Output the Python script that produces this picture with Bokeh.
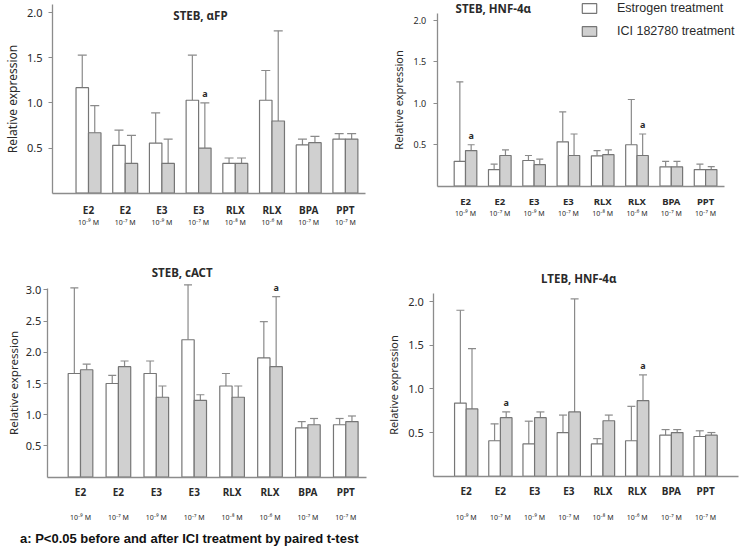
from bokeh.plotting import figure
from bokeh.models import (ColumnDataSource, Range1d, FixedTicker, LinearAxis, Whisker,
                          TeeHead, Label, Legend, LegendItem, Div, PrintfTickFormatter)
from bokeh.layouts import row, column
from bokeh.transform import dodge
from bokeh.core.properties import value
from bokeh.embed import file_html
from bokeh.resources import INLINE

# ---------------- data ----------------
drugs = ["E2", "E2", "E3", "E3", "RLX", "RLX", "BPA", "PPT"]
concs = ["10⁻⁹ M", "10⁻⁷ M", "10⁻⁹ M", "10⁻⁷ M", "10⁻⁸ M", "10⁻⁶ M", "10⁻⁷ M", "10⁻⁷ M"]

# STEB, αFP
afp_est = [1.17, 0.53, 0.555, 1.03, 0.33, 1.03, 0.535, 0.60]
afp_est_err = [1.53, 0.70, 0.89, 1.53, 0.39, 1.36, 0.60, 0.66]
afp_ici = [0.67, 0.33, 0.33, 0.50, 0.33, 0.80, 0.56, 0.60]
afp_ici_err = [0.97, 0.64, 0.60, 1.00, 0.39, 1.80, 0.63, 0.66]
afp_sig = ["", "", "", "a", "", "", "", ""]

# STEB, HNF-4α
shnf_est = [0.30, 0.20, 0.31, 0.535, 0.366, 0.50, 0.234, 0.20]
shnf_est_err = [1.26, 0.266, 0.37, 0.896, 0.43, 1.046, 0.30, 0.266]
shnf_ici = [0.43, 0.37, 0.26, 0.37, 0.38, 0.37, 0.234, 0.20]
shnf_ici_err = [0.50, 0.437, 0.326, 0.63, 0.437, 0.63, 0.30, 0.235]
shnf_sig = ["a", "", "", "", "", "a", "", ""]

# STEB, cACT
cact_est = [1.66, 1.50, 1.66, 2.20, 1.46, 1.91, 0.79, 0.84]
cact_est_err = [3.03, 1.63, 1.86, 3.08, 1.66, 2.49, 0.89, 0.94]
cact_ici = [1.72, 1.77, 1.28, 1.23, 1.28, 1.77, 0.84, 0.89]
cact_ici_err = [1.81, 1.86, 1.46, 1.32, 1.46, 2.89, 0.94, 0.98]
cact_sig = ["", "", "", "", "", "a", "", ""]

# LTEB, HNF-4α
lhnf_est = [0.837, 0.406, 0.37, 0.50, 0.37, 0.406, 0.47, 0.455]
lhnf_est_err = [1.90, 0.60, 0.63, 0.70, 0.43, 0.80, 0.534, 0.52]
lhnf_ici = [0.77, 0.67, 0.67, 0.736, 0.635, 0.865, 0.50, 0.47]
lhnf_ici_err = [1.46, 0.736, 0.736, 2.03, 0.70, 1.16, 0.534, 0.50]
lhnf_sig = ["", "a", "", "", "", "a", "", ""]

y_ticks_2 = [0.5, 1.0, 1.5, 2.0]
y_ticks_3 = [0.5, 1.0, 1.5, 2.0, 2.5, 3.0]

legend_labels = ["Estrogen treatment", "ICI 182780 treatment"]
footnote = "a: P<0.05 before and after ICI treatment by paired t-test"

# ---------------- style ----------------
FONT = "Noto Sans"
BAR_LINE = "#767676"
GRAY_FILL = "#d0d0d0"
ERR_COLOR = "#8a8a8a"
AXIS_COLOR = "#8c8c8c"
TXT = "#2a2a2a"


def panel(title, est, est_err, ici, ici_err, sig, yticks, g):
    idx = list(range(len(drugs)))
    src = ColumnDataSource(dict(x=idx, est=est, est_err=est_err, ici=ici,
                                ici_err=ici_err, sig=sig))
    p = figure(width=g["w"], height=g["h"], output_backend="svg", toolbar_location=None,
               x_range=Range1d(*g["xr"]), y_range=Range1d(*g["yr"]), min_border=0)
    p.outline_line_color = None
    p.grid.visible = False
    bw = g["bw"]
    r_est = p.vbar(x=dodge("x", -bw / 2), width=bw, top="est", bottom=0, source=src,
                   fill_color="white", line_color=BAR_LINE, line_width=1.2)
    r_ici = p.vbar(x=dodge("x", bw / 2), width=bw, top="ici", bottom=0, source=src,
                   fill_color=GRAY_FILL, line_color=BAR_LINE, line_width=1.2)
    for off, lo, up in [(-bw / 2, "est", "est_err"), (bw / 2, "ici", "ici_err")]:
        w = Whisker(base=dodge("x", off), lower=lo, upper=up, source=src,
                    dimension="height", line_color=ERR_COLOR, line_width=1.2,
                    lower_head=None,
                    upper_head=TeeHead(size=g["cap"], line_color=ERR_COLOR, line_width=1.2))
        p.add_layout(w)
    p.text(x=dodge("x", bw / 2), y="ici_err", text="sig", source=src,
           text_align="center", text_baseline="bottom", y_offset=-3,
           text_font=value(FONT), text_font_size="9px", text_font_style="bold",
           text_color=TXT)

    # y axis, drawn inside the frame at the left end of the x axis
    ya = p.yaxis[0]
    ya.fixed_location = g["yx"]
    ya.bounds = (0, g["ytop"])
    ya.ticker = FixedTicker(ticks=yticks)
    ya.formatter = PrintfTickFormatter(format="%.1f")
    ya.axis_line_color = AXIS_COLOR
    ya.axis_line_width = 1.3
    ya.major_tick_line_color = AXIS_COLOR
    ya.major_tick_out = 4
    ya.major_tick_in = 0
    ya.minor_tick_line_color = None
    ya.major_label_text_font = FONT
    ya.major_label_text_font_size = g["yfs"]
    ya.major_label_text_color = TXT
    ya.major_label_standoff = g["ystand"]
    ya.axis_label = "Relative expression"
    ya.axis_label_text_font = FONT
    ya.axis_label_text_font_style = "normal"
    ya.axis_label_text_font_size = g["yafs"]
    ya.axis_label_text_color = TXT
    ya.axis_label_standoff = g["yastand"]

    # x axis (drug names)
    xa = p.xaxis[0]
    xa.fixed_location = 0
    xa.bounds = (g["yx"], g["xend"])
    xa.ticker = FixedTicker(ticks=idx)
    xa.major_label_overrides = {i: d for i, d in zip(idx, drugs)}
    xa.axis_line_color = AXIS_COLOR
    xa.axis_line_width = 1.3
    xa.major_tick_line_color = None
    xa.minor_tick_line_color = None
    xa.major_tick_out = 0
    xa.minor_tick_out = 0
    xa.major_label_text_font = FONT
    xa.major_label_text_font_style = "bold"
    xa.major_label_text_font_size = g["xfs"]
    xa.major_label_text_color = TXT
    xa.major_label_standoff = g["xstand"]

    # second x axis (concentrations)
    ca = LinearAxis(ticker=FixedTicker(ticks=idx), fixed_location=0,
                    major_label_overrides={i: c for i, c in zip(idx, concs)},
                    axis_line_color=None, major_tick_line_color=None,
                    minor_tick_line_color=None, major_tick_out=0, minor_tick_out=0,
                    major_label_text_font=FONT,
                    major_label_text_font_size="7px", major_label_text_color=TXT,
                    major_label_standoff=g["cstand"])
    p.add_layout(ca, "below")

    p.add_layout(Label(x=g["tx"], y=g["ty"], text=title, text_align="center",
                       text_baseline="middle", text_font=FONT, text_font_style="bold",
                       text_font_size=g["tfs"], text_color=TXT))
    return p, r_est, r_ici


g1 = dict(w=370, h=245, xr=(-2.398, 7.684), yr=(-0.580, 2.136), yx=-0.981, xend=7.548,
          ytop=2.09, bw=0.34, cap=9, yfs="11px", ystand=6, yafs="12px", yastand=3,
          xfs="10px", xstand=10, cstand=25, tx=3.05, ty=1.970, tfs="11.5px")
g2 = dict(w=371, h=245, xr=(-2.770, 8.047), yr=(-0.716, 2.241), yx=-0.825, xend=7.551,
          ytop=2.09, bw=0.33, cap=7, yfs="9px", ystand=7, yafs="11px", yastand=5,
          xfs="9.5px", xstand=9, cstand=23, tx=0.81, ty=2.145, tfs="11.5px")
g3 = dict(w=370, h=280, xr=(-2.111, 7.652), yr=(-0.773, 3.709), yx=-0.879, xend=7.546,
          ytop=3.02, bw=0.325, cap=8, yfs="11px", ystand=2, yafs="11.5px", yastand=2,
          xfs="10px", xstand=8, cstand=36, tx=2.683, ty=3.282, tfs="11.5px")
g4 = dict(w=371, h=280, xr=(-2.798, 8.050), yr=(-0.564, 2.641), yx=-0.947, xend=7.96,
          ytop=2.09, bw=0.34, cap=8, yfs="11px", ystand=6, yafs="11px", yastand=4,
          xfs="10px", xstand=8, cstand=37, tx=3.292, ty=2.260, tfs="11.5px")

p1, _, _ = panel("STEB, αFP", afp_est, afp_est_err, afp_ici, afp_ici_err, afp_sig, y_ticks_2, g1)
p2, re2, ri2 = panel("STEB, HNF-4α", shnf_est, shnf_est_err, shnf_ici, shnf_ici_err, shnf_sig, y_ticks_2, g2)
p3, _, _ = panel("STEB, cACT", cact_est, cact_est_err, cact_ici, cact_ici_err, cact_sig, y_ticks_3, g3)
p4, _, _ = panel("LTEB, HNF-4α", lhnf_est, lhnf_est_err, lhnf_ici, lhnf_ici_err, lhnf_sig, y_ticks_2, g4)

legend = Legend(items=[LegendItem(label=legend_labels[0], renderers=[re2]),
                       LegendItem(label=legend_labels[1], renderers=[ri2])],
                location=(210, 207), orientation="vertical",
                glyph_width=18, glyph_height=12, label_height=12, spacing=9,
                label_standoff=19, padding=0, margin=0,
                border_line_color=None, background_fill_alpha=0,
                label_text_font="Liberation Sans", label_text_font_size="12.5px",
                label_text_color=TXT)
p2.add_layout(legend)

note = Div(text=footnote, width=741, height=17,
           styles={"font-family": "Liberation Sans", "font-weight": "bold",
                   "font-size": "13px", "color": "#111", "padding-left": "15px",
                   "line-height": "17px", "white-space": "nowrap"})

layout = column(row(p1, p2), row(p3, p4), note)

open("out.html", "w").write(file_html(layout, INLINE))
